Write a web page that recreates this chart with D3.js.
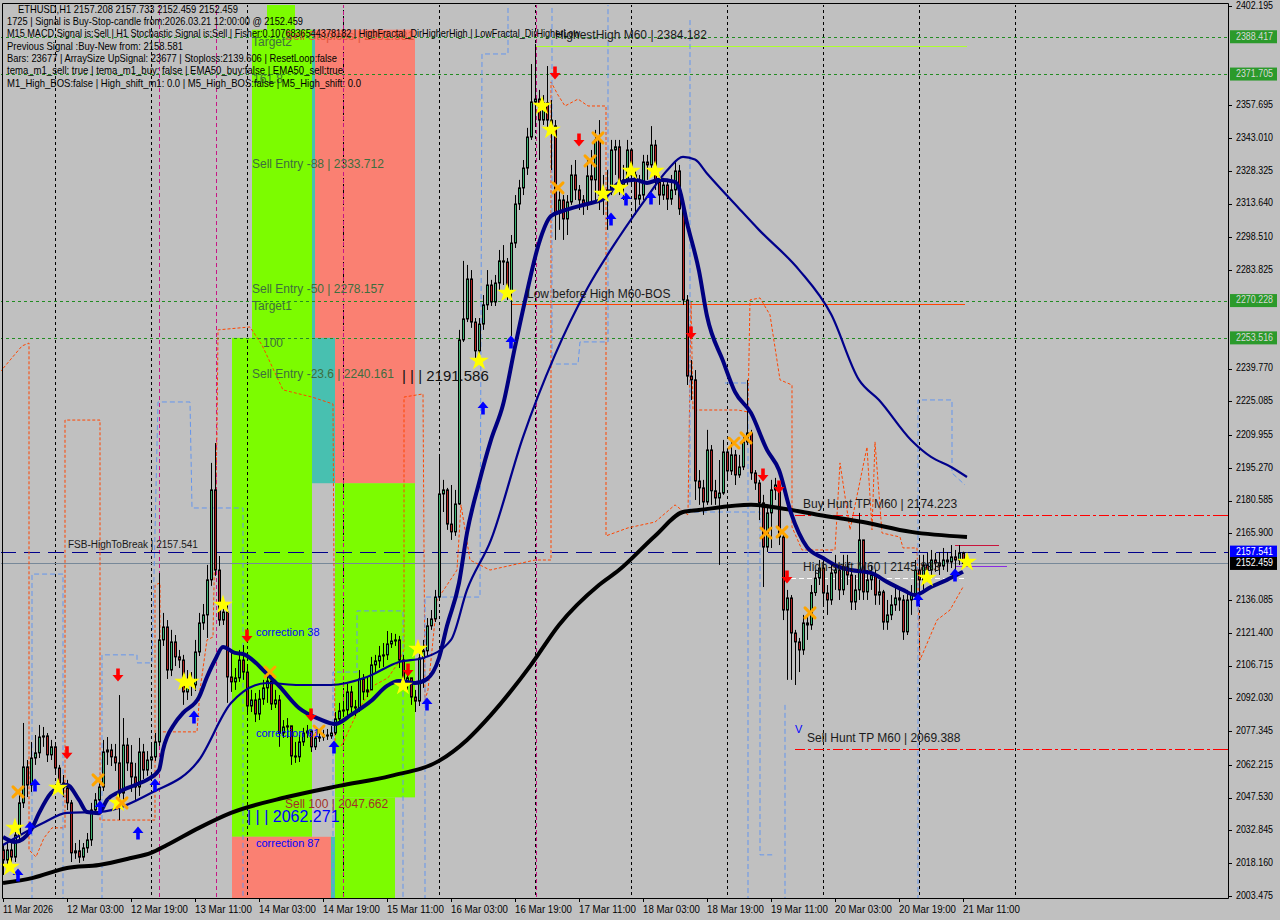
<!DOCTYPE html>
<html><head><meta charset="utf-8">
<script src="https://cdn.jsdelivr.net/npm/d3@7"></script>
<style>html,body{margin:0;padding:0;background:#c0c0c0;}svg{display:block;}</style>
</head><body>
<svg id="c" width="1280" height="920"></svg>
<script>
// ---------------- DATA ----------------
const firstOpen = 2024.1;
const closes = [2019.6,2024.1,2020.9,2030.8,2045.2,2061.3,2053.2,2065.3,2067.6,2074.7,2075.2,2066.7,2070.3,2060.8,2054.1,2051.9,2045.2,2022.8,2023.7,2020.9,
2025.0,2028.6,2042.0,2046.5,2052.3,2068.0,2068.9,2065.8,2063.1,2049.6,2071.1,2063.1,2056.8,2052.3,2068.0,2059.9,2064.4,2065.8,2072.5,2118.2,
2124.0,2104.7,2117.3,2110.6,2109.2,2094.9,2100.3,2098.0,2112.8,2125.8,2129.4,2145.1,2185.4,2149.5,2127.1,2130.7,2101.6,2099.4,2101.2,2109.2,
2103.8,2088.6,2091.3,2085.0,2091.7,2096.7,2099.8,2089.5,2091.3,2076.5,2079.2,2079.7,2066.2,2065.8,2072.5,2076.5,2077.4,2070.3,2074.3,2074.7,
2075.6,2075.2,2076.5,2082.8,2086.4,2086.8,2094.9,2088.2,2087.7,2100.7,2094.9,2095.8,2107.0,2108.8,2111.0,2111.5,2116.4,2117.7,2118.2,2109.2,
2098.9,2101.2,2092.6,2090.8,2110.1,2113.3,2124.5,2127.6,2137.4,2183.6,2185.4,2170.1,2166.6,2179.1,2252.6,2262.0,2279.9,2260.6,2247.7,2259.7,
2268.3,2277.2,2269.6,2278.1,2288.0,2287.5,2274.1,2296.0,2313.5,2320.7,2329.6,2343.5,2359.2,2360.5,2351.1,2358.8,2351.1,2348.5,2309.5,2315.3,
2306.8,2314.4,2326.5,2319.8,2315.3,2313.1,2326.1,2324.3,2342.2,2317.5,2319.8,2318.9,2337.7,2339.1,2322.0,2324.3,2337.7,2326.5,2315.7,2317.5,
2332.3,2331.0,2339.9,2323.4,2317.5,2322.0,2315.7,2319.8,2328.3,2311.3,2270.5,2236.4,2234.7,2189.4,2186.3,2180.0,2203.3,2185.0,2181.8,2184.0,
2202.4,2193.9,2201.1,2192.1,2195.7,2206.9,2210.9,2193.0,2188.5,2179.6,2159.8,2175.1,2185.4,2187.6,2164.3,2131.6,2137.0,2121.3,2117.3,2113.7,
2125.8,2124.9,2139.4,2145.9,2150.4,2139.2,2136.1,2148.2,2149.5,2140.6,2150.9,2147.3,2135.2,2140.6,2163.0,2139.7,2145.1,2147.3,2138.3,2139.7,
2126.2,2129.4,2133.9,2137.0,2136.1,2121.8,2136.1,2138.3,2149.5,2145.1,2151.8,2149.5,2154.0,2152.7,2151.3,2154.0,2153.1,2155.4,2154.0,2157.208,
2152.459];
const highs = [2026.8,2029.5,2027.2,2034.0,2049.6,2081.0,2064.4,2072.5,2075.6,2080.1,2079.2,2076.5,2073.4,2071.1,2062.2,2057.7,2055.5,2046.5,2027.2,2028.6,
2027.2,2031.7,2045.2,2049.6,2056.4,2073.4,2074.7,2071.6,2071.6,2093.5,2083.2,2074.3,2071.1,2063.1,2074.3,2071.6,2068.4,2071.6,2076.5,2148.2,
2130.3,2127.1,2122.7,2120.4,2113.7,2111.5,2104.7,2103.8,2118.2,2130.3,2134.3,2151.8,2197.5,2206.4,2155.8,2137.0,2133.9,2113.7,2105.6,2113.7,
2115.9,2107.0,2095.8,2094.4,2095.8,2100.3,2103.8,2102.5,2095.8,2093.5,2082.3,2083.2,2075.6,2072.5,2075.6,2078.8,2080.1,2077.9,2077.0,2077.0,
2077.9,2078.3,2079.7,2085.9,2090.0,2090.4,2098.5,2097.6,2091.3,2104.7,2102.9,2102.0,2110.6,2111.5,2115.5,2116.8,2122.2,2121.3,2120.9,2120.0,
2111.5,2104.7,2100.3,2095.8,2112.8,2118.2,2128.0,2131.6,2140.6,2201.5,2189.9,2186.3,2187.6,2185.4,2257.1,2288.0,2286.2,2283.9,2262.4,2262.4,
2272.7,2283.9,2279.5,2281.7,2292.9,2295.1,2289.3,2299.6,2317.5,2324.3,2333.2,2347.6,2376.2,2385.2,2364.6,2362.3,2375.3,2360.1,2351.1,2322.0,
2317.5,2317.5,2331.0,2333.2,2322.0,2317.5,2333.2,2337.7,2346.7,2351.1,2326.5,2328.7,2342.2,2342.2,2342.2,2331.0,2342.2,2338.6,2328.7,2326.5,
2335.5,2335.5,2348.4,2342.2,2326.5,2325.2,2324.3,2326.5,2333.2,2331.0,2315.3,2272.7,2243.6,2239.1,2194.3,2189.9,2212.3,2205.5,2189.9,2198.8,
2207.8,2204.2,2207.8,2203.3,2201.1,2210.0,2234.7,2212.3,2194.3,2189.9,2183.2,2178.7,2189.9,2190.8,2188.5,2165.2,2140.6,2138.3,2122.7,2119.1,
2129.4,2129.4,2142.8,2149.5,2154.0,2154.0,2142.8,2151.8,2156.3,2151.8,2156.3,2156.3,2149.5,2147.3,2175.1,2163.0,2149.5,2151.8,2149.5,2145.1,
2140.6,2136.1,2138.3,2142.8,2140.6,2138.3,2140.6,2142.8,2154.0,2156.3,2156.3,2157.2,2158.5,2157.2,2157.6,2159.4,2157.6,2160.7,2158.5,2160.7,
2157.733];
const lows = [2012.9,2016.0,2017.8,2018.7,2028.6,2042.9,2047.8,2050.1,2062.2,2065.3,2070.3,2063.5,2064.4,2057.7,2050.1,2047.8,2042.0,2018.7,2020.1,2018.3,
2019.2,2022.8,2025.9,2039.8,2044.3,2050.5,2062.2,2061.7,2059.5,2037.5,2046.0,2059.5,2050.1,2046.5,2048.3,2055.9,2057.3,2061.7,2064.0,2070.7,
2115.5,2100.7,2102.0,2106.5,2105.6,2089.1,2091.3,2093.1,2095.3,2111.0,2122.7,2119.1,2142.4,2146.9,2124.5,2124.9,2090.0,2094.9,2095.8,2099.4,
2100.3,2085.9,2085.9,2081.4,2082.3,2089.1,2090.0,2086.8,2087.7,2070.3,2074.3,2074.3,2062.2,2063.1,2063.5,2070.7,2074.3,2068.0,2068.9,2072.5,
2073.0,2073.4,2073.9,2075.6,2081.4,2083.7,2083.7,2085.5,2084.1,2085.9,2091.3,2092.6,2095.8,2103.8,2105.6,2106.1,2109.2,2114.6,2115.5,2105.6,
2095.8,2095.8,2089.1,2085.9,2088.6,2096.7,2111.0,2122.7,2126.2,2136.1,2175.5,2167.5,2163.0,2164.8,2178.7,2251.7,2260.6,2258.0,2244.5,2244.5,
2257.1,2266.0,2267.8,2267.8,2275.0,2277.2,2270.5,2254.4,2293.8,2310.8,2317.5,2326.5,2342.2,2348.9,2333.2,2348.9,2347.6,2328.7,2297.4,2301.9,
2297.4,2299.6,2313.1,2315.3,2310.8,2308.6,2310.8,2313.1,2315.3,2310.8,2308.6,2301.9,2317.5,2326.5,2317.5,2315.3,2322.0,2322.0,2308.6,2313.1,
2315.3,2324.3,2328.7,2319.8,2313.1,2315.3,2310.8,2313.1,2317.5,2308.6,2268.3,2232.4,2225.7,2180.9,2178.7,2174.2,2178.7,2178.7,2178.7,2151.8,
2183.2,2189.9,2192.1,2187.6,2190.8,2194.3,2205.5,2189.9,2185.4,2171.9,2141.9,2157.6,2159.4,2180.9,2160.7,2127.1,2100.3,2100.3,2098.0,2103.8,
2111.5,2118.2,2122.7,2137.9,2142.8,2133.9,2129.4,2133.9,2140.6,2136.1,2138.3,2142.8,2131.6,2131.6,2136.1,2136.1,2136.1,2140.6,2133.9,2133.9,
2122.7,2122.7,2127.1,2131.2,2131.2,2118.2,2120.4,2129.4,2136.1,2138.3,2140.6,2144.2,2147.3,2148.7,2147.3,2149.5,2148.7,2150.4,2149.5,2151.8,
2152.459];

// moving averages, read at sampled bars: [bar, price]
const maFast = [[0,2029.9],[3,2027.7],[7,2033.1],[9,2040.6],[12,2049.6],[14,2052.3],[16,2053.2],[19,2046.5],[21,2041.1],[24,2040.6],[26,2046.5],[29,2050.1],[33,2053.2],[36,2055.5],[39,2059.9],[40,2068.9],[43,2081.0],[45,2085.5],[49,2092.6],[51,2101.6],[53,2109.2],[55,2115.0],[58,2112.4],[60,2111.9],[66,2103.0],[69,2097.6],[74,2087.7],[79,2082.8],[83,2080.5],[87,2084.6],[92,2090.8],[96,2097.6],[99,2099.8],[103,2098.9],[106,2100.7],[109,2110.1],[111,2124.5],[114,2143.7],[116,2166.1],[119,2188.5],[122,2207.8],[125,2223.5],[128,2249.5],[131,2274.1],[134,2296.0],[137,2308.1],[140,2310.4],[146,2313.5],[150,2315.7],[154,2322.9],[158,2324.3],[161,2322.9],[164,2324.3],[168,2323.4],[169,2320.7],[171,2305.0],[174,2283.5],[176,2263.3],[180,2243.2],[183,2229.3],[187,2219.9],[191,2203.3],[194,2194.3],[197,2175.1],[201,2159.8],[205,2154.9],[209,2150.9],[212,2149.5],[217,2148.2],[221,2144.2],[225,2140.6],[228,2138.3],[232,2141.9],[236,2145.1],[240,2148.7]];
const maMid = [[0,2026.3],[10,2036.2],[16,2040.7],[24,2041.1],[37,2049.6],[49,2064.4],[57,2089.9],[66,2098.9],[74,2098.0],[82,2098.0],[91,2101.6],[99,2108.3],[105,2110.1],[112,2118.2],[116,2140.6],[122,2163.0],[130,2209.1],[138,2245.9],[146,2275.4],[154,2298.6],[161,2316.6],[166,2328.5],[170,2334.6],[173,2333.4],[176,2327.2],[184,2311.5],[189,2301.9],[199,2284.0],[207,2264.2],[214,2234.7],[219,2225.7],[227,2207.8],[232,2200.2],[237,2195.7],[241,2191.2]];
const maSlow = [[0,2009.3],[7.5,2011.6],[16,2016.0],[24,2017.4],[32,2020.5],[37,2022.8],[41,2026.3],[49,2034.0],[57,2040.7],[71,2047.8],[84,2052.8],[97,2057.3],[109,2064.0],[116,2073.4],[122,2084.6],[132,2107.0],[139,2124.9],[149,2142.8],[154,2149.5],[163,2164.8],[170,2175.5],[174,2176.4],[187,2178.7],[194,2177.3],[204,2174.2],[215,2171.0],[227,2166.6],[241,2164.3]];

// stepped trailing lines [bar, price]
const orangeLine = [[-0.75,2238.2],[4.75,2249.9],[6.5,2251.2],[6.5,2024.1],[8.25,2021.0],[10.25,2029.5],[12.25,2034.0],[15.5,2034.0],[15.5,2216.7],[24.25,2216.7],[24.25,2037.5],[38,2037.5],[38,2142.8],[39.25,2143.7],[39.25,2077.0],[48.5,2077.0],[49.25,2095.8],[51,2118.2],[52.5,2119.5],[53.5,2210.9],[53.75,2257.1],[61.75,2258.4],[64.75,2250.3],[70,2230.2],[77.25,2227.0],[82.5,2223.9],[83,2070.2],[84.75,2071.1],[88.5,2085.5],[92.5,2097.6],[96.25,2101.2],[99.25,2109.2],[100.25,2113.7],[100.25,2227.0],[105,2228.4],[105.5,2091.3],[106.25,2095.8],[108.5,2136.1],[113.5,2149.5],[114.5,2178.7],[116.75,2154.0],[121.75,2149.5],[133,2154.0],[137,2154.0],[137,2368.2],[138.75,2362.3],[140.5,2357.4],[143.75,2360.5],[146.25,2357.4],[150.75,2357.4],[150.75,2164.8],[156.25,2168.4],[163,2171.0],[168,2178.7],[171.25,2174.2],[172,2269.6],[172.5,2221.2],[183.75,2221.2],[186.25,2220.3],[186.75,2270.5],[189.25,2271.4],[191.75,2263.8],[194.25,2234.7],[197.25,2232.4],[197.25,2168.8],[199.75,2158.5],[208,2158.5],[209.25,2197.5],[211.75,2167.5],[216,2204.6],[217.25,2167.5],[218,2206.9],[219.75,2166.1],[224.25,2164.3],[225,2159.4],[228.5,2159.4],[229.25,2109.2],[233.5,2127.1],[236.75,2131.6],[240,2141.9]];
const blueLines = [
 [[7.25,2001.7],[7.25,2147.7],[15,2147.7],[15,2001.7]],
 [[24.75,2001.7],[24.75,2111.5],[33.5,2111.5],[33.5,2107.9],[37.25,2107.9],[38.75,2224.8],[46.75,2224.8],[47.25,2177.3],[60,2177.3],[60,2001.7]],
 [[82.5,2001.7],[82.5,2103.8],[88.5,2103.8],[88.5,2131.2],[100,2131.2],[100,2001.7]],
 [[105.5,2001.7],[105.5,2137.4],[119.25,2137.4],[119.75,2380.7],[126.25,2380.7],[126.25,2404.9]],
 [[137.25,2404.9],[137.25,2241.8],[143.75,2241.8],[144.25,2251.7],[151.25,2251.7],[151.25,2404.9]],
 [[171.75,2395.9],[171.75,2175.5],[189.25,2175.5],[189.25,2021.9],[193,2021.9]],
 [[180.5,2233.3],[186.25,2233.3],[186.25,2001.7]],
 [[195.5,2089.1],[195.5,2001.7]],
 [[228.75,2001.7],[228.75,2225.7],[237.25,2225.7],[237.25,2193.0],[240.5,2187.6]]
];

// signal markers [bar, price]
const sellArrows = [[138,2372.2],[144,2342.2],[61,2120.0],[28.75,2102.5],[16,2067.6],[77,2084.6],[101.25,2104.7],[172,2255.7],[190,2192.1],[194,2186.7],[196,2146.4]];
const buyArrows = [[8,2053.2],[3.75,2012.9],[6.75,2034.0],[24.25,2043.4],[33.75,2031.7],[38,2053.2],[47.75,2083.7],[82.75,2070.2],[106,2089.5],[120,2222.1],[127,2251.7],[152,2306.8],[155.75,2315.7],[162,2316.2],[228.75,2136.1],[238,2147.3]];
const stars = [[1.75,2016.5],[3,2034.0],[13.75,2051.9],[28.75,2045.2],[45.25,2099.4],[46.75,2099.4],[55,2133.9],[100,2097.6],[103.75,2114.1],[119,2243.2],[126,2273.6],[134.75,2357.4],[137,2346.7],[150,2318.0],[154,2320.7],[157,2328.3],[163,2328.3],[231,2146.0],[241,2153.1]];
const crosses = [[3.75,2050.1],[23.75,2055.5],[29.75,2045.2],[66.75,2103.8],[79,2077.4],[138.75,2320.7],[146.75,2332.8],[148.75,2343.1],[182.75,2206.4],[185.75,2208.7],[190.75,2166.1],[194.75,2166.6],[201.75,2130.3]];

// fibo / hunt zones: [barFrom, barTo, priceTop, priceBottom, kind]
const zones = [
 [66,73,2405,2391.581,'buy'],
 [62.25,77.25,2391.581,2253.516,'buy'],
 [57.25,77.25,2253.516,2030.0,'buy'],
 [57.25,82,2030.0,2000,'sell'],
 [82,83,2030.0,2000,'mid'],
 [77.25,103,2391.581,2253.516,'sell'],
 [77.25,78,2391.581,2253.516,'mid'],
 [77.25,83,2253.516,2188.4,'mid'],
 [83,103,2253.516,2188.4,'sell'],
 [83,103,2188.4,2047.662,'buy'],
 [83,98,2047.662,2000,'buy']
];

// horizontal levels
const greenLevels = [2388.417,2371.705,2270.228,2253.516];
const fsbLevel = 2157.541;
const bidLevel = 2152.459;
const huntLevels = [[198,2174.223],[198,2069.388]];
const bosLevel = [127,240.5,2268.9];
const highestLevel = [133,241,2384.182];
const shiftLevel = [197,240.5,2145.9];
const smallLevels = [[238,251,2151.3,'violet'],[238,249,2160.7,'crimson']];
const magentaBars = [39,53.25,85,133.25];
const daySeparators = [13,37,61,85,109,133,157,181,205,229,253];

// axes (labels hidden behind the coloured level boxes are not listed)
const priceTicks = ["2402.195","2357.695","2343.010","2328.325","2313.640","2298.510","2283.825","2239.770","2225.085","2209.955","2195.270","2180.585","2165.900","2136.085","2121.400","2106.715","2092.030","2077.345","2062.215","2047.530","2032.845","2018.160","2003.475"];
const timeTickBars = [0,16,32,48,64,80,96,112,128,144,160,176,192,208,224,240];
const timeTickLabels = ["11 Mar 2026","12 Mar 03:00","12 Mar 19:00","13 Mar 11:00","14 Mar 03:00","14 Mar 19:00","15 Mar 11:00","16 Mar 03:00","16 Mar 19:00","17 Mar 11:00","18 Mar 03:00","18 Mar 19:00","19 Mar 11:00","20 Mar 03:00","20 Mar 19:00","21 Mar 11:00"];

// texts
const headerLines = [
 "ETHUSD,H1  2157.208 2157.733 2152.459 2152.459",
 "1725 | Signal is Buy-Stop-candle from:2026.03.21 12:00:00 @ 2152.459",
 "M15 MACD Signal is:Sell | H1 Stochastic Signal is:Sell | Fisher:0.1076836544378182 | HighFractal_DirHigherHigh | LowFractal_DirHigherLow",
 "Previous Signal :Buy-New from: 2158.581",
 "Bars: 23677 | ArraySize UpSignal: 23677 | Stoploss:2139.606 | ResetLoop:false",
 "tema_m1_sell: true | tema_m1_buy: false | EMA50_buy:false | EMA50_sell:true",
 "M1_High_BOS:false | High_shift_m1: 0.0 | M5_High_BOS:false | M5_High_shift: 0.0"
];
// [bar, price, text, kind]
const chartLabels = [
 [62.25,2385.6,"Target2","fibo"],
 [70.5,2388.3,"Sell Stoploss | 2391.581","stop"],
 [62.5,2369.1,"161.8","fibo"],
 [62.25,2331.0,"Sell Entry -88 | 2333.712","fibo"],
 [62.25,2275.0,"Sell Entry -50 | 2278.157","fibo"],
 [62.25,2267.4,"Target1","fibo"],
 [65,2250.8,"100","fibo"],
 [62.25,2236.9,"Sell Entry -23.6 | 2240.161","fibo"],
 [99.75,2236.0,"| | | 2191.586","bigblack"],
 [63.25,2121.3,"correction 38","corr"],
 [63.25,2076.1,"correction 61","corr"],
 [63.25,2026.8,"correction 87","corr"],
 [70.5,2044.3,"Sell 100 | 2047.662","sell100"],
 [61,2038.4,"| | | 2062.271","bigblue"],
 [16.25,2160.7,"FSB-HighToBreak | 2157.541","small"],
 [138,2388.8,"HighestHigh   M60 | 2384.182","obj"],
 [131,2272.7,"Low before High   M60-BOS","obj"],
 [200,2178.7,"Buy Hunt TP M60 | 2174.223","obj"],
 [200,2150.4,"High-shift M60 | 2145.883","obj"],
 [201,2073.8,"Sell Hunt TP M60 | 2069.388","obj"],
 [198,2077.9,"V","vmark"]
];
const axisBoxes = [[2388.417,'green'],[2371.705,'green'],[2270.228,'green'],[2253.516,'green'],[2157.541,'blue'],[2152.459,'black']];

// ---------------- DRAW ----------------
const svg = d3.select('#c');
const PL=0, PR=1228, PT=4, PB=898;
const x = d3.scaleLinear().domain([0,240]).range([3,963]);
const y = d3.scaleLinear().domain([2003.475,2402.195]).range([896,6]);
const FONT = "'Liberation Sans', Arial, sans-serif";
const py = v => Math.round(y(v))+0.5;

svg.append('rect').attr('width',1280).attr('height',920).attr('fill','#c0c0c0');
svg.append('defs').append('clipPath').attr('id','plot').append('rect')
  .attr('x',PL+1).attr('y',PT+1).attr('width',PR-PL-1).attr('height',PB-PT-1);
const g = svg.append('g').attr('clip-path','url(#plot)');

// zones
const zoneColor = {buy:'#7cfc00', sell:'#fa8072', mid:'#48c0b0'};
g.selectAll('rect.zone').data(zones).join('rect').attr('class','zone')
 .attr('x',d=>x(d[0])).attr('width',d=>x(d[1])-x(d[0]))
 .attr('y',d=>y(d[2])).attr('height',d=>y(d[3])-y(d[2]))
 .attr('fill',d=>zoneColor[d[4]]);

// day separators & magenta lines
g.selectAll('line.day').data(daySeparators).join('line').attr('class','day')
 .attr('x1',d=>Math.round(x(d))+0.5).attr('x2',d=>Math.round(x(d))+0.5).attr('y1',PT).attr('y2',PB)
 .attr('stroke','#000').attr('stroke-width',1).attr('stroke-dasharray','3,3');
g.selectAll('line.mag').data(magentaBars).join('line').attr('class','mag')
 .attr('x1',d=>Math.round(x(d))+0.5).attr('x2',d=>Math.round(x(d))+0.5).attr('y1',PT).attr('y2',PB)
 .attr('stroke','#c71585').attr('stroke-width',1).attr('stroke-dasharray','4,3');

// horizontal levels
g.selectAll('line.gl').data(greenLevels).join('line').attr('class','gl')
 .attr('x1',PL).attr('x2',PR).attr('y1',py).attr('y2',py)
 .attr('stroke','#228b22').attr('stroke-dasharray','3,3').attr('shape-rendering','crispEdges');
g.append('line').attr('x1',PL).attr('x2',PR).attr('y1',py(bidLevel)).attr('y2',py(bidLevel))
 .attr('stroke','#778899').attr('shape-rendering','crispEdges');
g.append('line').attr('x1',PL).attr('x2',PR).attr('y1',py(fsbLevel)).attr('y2',py(fsbLevel))
 .attr('stroke','#00008b').attr('stroke-dasharray','16,8').attr('shape-rendering','crispEdges');
g.selectAll('line.hunt').data(huntLevels).join('line').attr('class','hunt')
 .attr('x1',d=>x(d[0])).attr('x2',PR).attr('y1',d=>py(d[1])).attr('y2',d=>py(d[1]))
 .attr('stroke','#ff0000').attr('stroke-width',1).attr('stroke-dasharray','10,3,3,3').attr('shape-rendering','crispEdges');
g.append('line').attr('x1',x(bosLevel[0])).attr('x2',x(bosLevel[1])).attr('y1',py(bosLevel[2])).attr('y2',py(bosLevel[2]))
 .attr('stroke','#ff4500').attr('stroke-width',1).attr('shape-rendering','crispEdges');
g.append('line').attr('x1',x(highestLevel[0])).attr('x2',x(highestLevel[1])).attr('y1',py(highestLevel[2])).attr('y2',py(highestLevel[2]))
 .attr('stroke','#adff2f').attr('stroke-width',1).attr('shape-rendering','crispEdges');
g.append('line').attr('x1',x(shiftLevel[0])).attr('x2',x(shiftLevel[1])).attr('y1',py(shiftLevel[2])).attr('y2',py(shiftLevel[2]))
 .attr('stroke','#ffffff').attr('stroke-dasharray','5,3').attr('shape-rendering','crispEdges');
g.selectAll('line.sm').data(smallLevels).join('line').attr('class','sm')
 .attr('x1',d=>x(d[0])).attr('x2',d=>x(d[1])).attr('y1',d=>py(d[2])).attr('y2',d=>py(d[2]))
 .attr('stroke',d=>d[3]==='violet'?'#8a2be2':'#c8143c').attr('shape-rendering','crispEdges');

// stepped dashed lines
const lp = d3.line().x(d=>x(d[0])).y(d=>y(d[1]));
g.append('path').attr('d',lp(orangeLine)).attr('fill','none').attr('stroke','#ff4500').attr('stroke-width',1).attr('stroke-dasharray','3,2');
g.selectAll('path.bl').data(blueLines).join('path').attr('class','bl').attr('d',d=>lp(d)).attr('fill','none')
 .attr('stroke','#6495ed').attr('stroke-width',1).attr('stroke-dasharray','5,3');

// candles
const opens = closes.map((c,i)=> i===0 ? firstOpen : closes[i-1]);
const cg = g.append('g');
closes.forEach((c,i)=>{
  const cx = Math.round(x(i));
  const o = opens[i];
  cg.append('line').attr('x1',cx+0.5).attr('x2',cx+0.5).attr('y1',y(highs[i])).attr('y2',y(lows[i])).attr('stroke','#000').attr('stroke-width',1);
  const top = y(Math.max(o,c)), bot = y(Math.min(o,c));
  cg.append('rect').attr('x',cx-0.5).attr('width',2).attr('y',top).attr('height',Math.max(1,bot-top))
    .attr('fill', c>=o ? '#3cb371' : '#b22222').attr('stroke','#000').attr('stroke-width',1);
});

// moving averages
const lc = d3.line().x(d=>x(d[0])).y(d=>y(d[1])).curve(d3.curveMonotoneX);
g.append('path').attr('d',lc(maSlow)).attr('fill','none').attr('stroke','#000').attr('stroke-width',4);
g.append('path').attr('d',lc(maMid)).attr('fill','none').attr('stroke','#00008b').attr('stroke-width',2.2);
g.append('path').attr('d',lc(maFast)).attr('fill','none').attr('stroke','#000080').attr('stroke-width',4);

// markers
const arrowDown = "M-1.8,-6.5L1.8,-6.5L1.8,0L5.5,0L0,6.5L-5.5,0L-1.8,0Z";
const arrowUp = "M-1.8,6.5L1.8,6.5L1.8,0L5.5,0L0,-6.5L-5.5,0L-1.8,0Z";
g.selectAll('path.sa').data(sellArrows).join('path').attr('class','sa').attr('d',arrowDown)
 .attr('transform',d=>`translate(${x(d[0])},${y(d[1])})`).attr('fill','#ff0000');
g.selectAll('path.ba').data(buyArrows).join('path').attr('class','ba').attr('d',arrowUp)
 .attr('transform',d=>`translate(${x(d[0])},${y(d[1])})`).attr('fill','#0000ff');
const starPath = d3.symbol().type(d3.symbolStar).size(120)();
g.selectAll('path.st').data(stars).join('path').attr('class','st').attr('d',starPath)
 .attr('transform',d=>`translate(${x(d[0])},${y(d[1])})`).attr('fill','#ffff00');
g.selectAll('path.cr').data(crosses).join('path').attr('class','cr').attr('d',"M-5,-5L5,5M5,-5L-5,5")
 .attr('transform',d=>`translate(${x(d[0])},${y(d[1])})`).attr('stroke','#ffa500').attr('stroke-width',3).attr('stroke-linecap','round');

// chart labels
const labelStyle = {
 fibo:{size:12,color:'#3e6e3e'}, stop:{size:12,color:'#e2553a'}, bigblack:{size:15,color:'#111'},
 corr:{size:11,color:'#0000ff'}, sell100:{size:12,color:'#a0302a'}, bigblue:{size:16,color:'#0000ff'},
 small:{size:10,color:'#1a1a1a'}, obj:{size:12,color:'#1a1a1a'}, vmark:{size:11,color:'#0000ff'}
};
g.selectAll('text.lbl').data(chartLabels).join('text').attr('class','lbl')
 .attr('x',d=>x(d[0])).attr('y',d=>y(d[1])).attr('dominant-baseline','middle')
 .attr('font-family',FONT).attr('font-size',d=>labelStyle[d[3]].size).attr('fill',d=>labelStyle[d[3]].color)
 .text(d=>d[2]);

// header
const headerWidths = [220,296,573,176,330,336,354];
const headerX = [18,7,7,7,7,7,7];
svg.selectAll('text.hdr').data(headerLines).join('text').attr('class','hdr')
 .attr('x',(d,i)=>headerX[i]).attr('y',(d,i)=>10+i*12.3).attr('dominant-baseline','middle')
 .attr('font-family',FONT).attr('font-size',10.5).attr('fill','#000')
 .attr('textLength',(d,i)=>headerWidths[i]).attr('lengthAdjust','spacingAndGlyphs')
 .text(d=>d);

// frame
svg.append('path').attr('d',`M${PL+2.5},${PB+0.5}V${PT-0.5}H${PR+0.5}V${PB+0.5}H${PL+2.5}`)
 .attr('fill','none').attr('stroke','#000').attr('stroke-width',1);

// price axis
const ay = svg.append('g');
ay.selectAll('line.pt').data(priceTicks).join('line').attr('class','pt')
 .attr('x1',PR).attr('x2',PR+4).attr('y1',d=>py(+d)).attr('y2',d=>py(+d)).attr('stroke','#000');
ay.selectAll('text.pt').data(priceTicks).join('text').attr('class','pt')
 .attr('x',1236).attr('y',d=>y(+d)).attr('dominant-baseline','middle')
 .attr('font-family',FONT).attr('font-size',10.5).attr('fill','#000')
 .attr('textLength',37).attr('lengthAdjust','spacingAndGlyphs').text(d=>d);
// coloured price boxes
const boxFill = {green:'#2b9a2b', blue:'#0000ff', black:'#000000'};
const boxText = {green:'#d8d8d8', blue:'#ffffff', black:'#ffffff'};
const bx = svg.selectAll('g.box').data(axisBoxes).join('g').attr('class','box');
bx.append('rect').attr('x',1230).attr('width',47).attr('y',d=>y(d[0])-6.5).attr('height',13).attr('fill',d=>boxFill[d[1]]);
bx.append('text').attr('x',1236).attr('y',d=>y(d[0])).attr('dominant-baseline','middle')
 .attr('font-family',FONT).attr('font-size',10.5).attr('fill',d=>boxText[d[1]])
 .attr('textLength',37).attr('lengthAdjust','spacingAndGlyphs').text(d=>d[0].toFixed(3));
// red markers on axis
svg.selectAll('line.hm').data(huntLevels).join('line').attr('class','hm')
 .attr('x1',PR-7).attr('x2',PR).attr('y1',d=>py(d[1])).attr('y2',d=>py(d[1]))
 .attr('stroke','#ff0000').attr('stroke-width',1);

// time axis
const ax = svg.append('g');
ax.selectAll('line.tt').data(timeTickBars).join('line').attr('class','tt')
 .attr('x1',d=>Math.round(x(d))+0.5).attr('x2',d=>Math.round(x(d))+0.5).attr('y1',PB).attr('y2',PB+4).attr('stroke','#000');
ax.selectAll('text.tt').data(timeTickLabels).join('text').attr('class','tt')
 .attr('x',(d,i)=>x(timeTickBars[i])).attr('y',910).attr('dominant-baseline','middle')
 .attr('font-family',FONT).attr('font-size',10.5).attr('fill','#000')
 .attr('textLength',(d,i)=> i===0?50:57).attr('lengthAdjust','spacingAndGlyphs').text(d=>d);
</script>
</body></html>
